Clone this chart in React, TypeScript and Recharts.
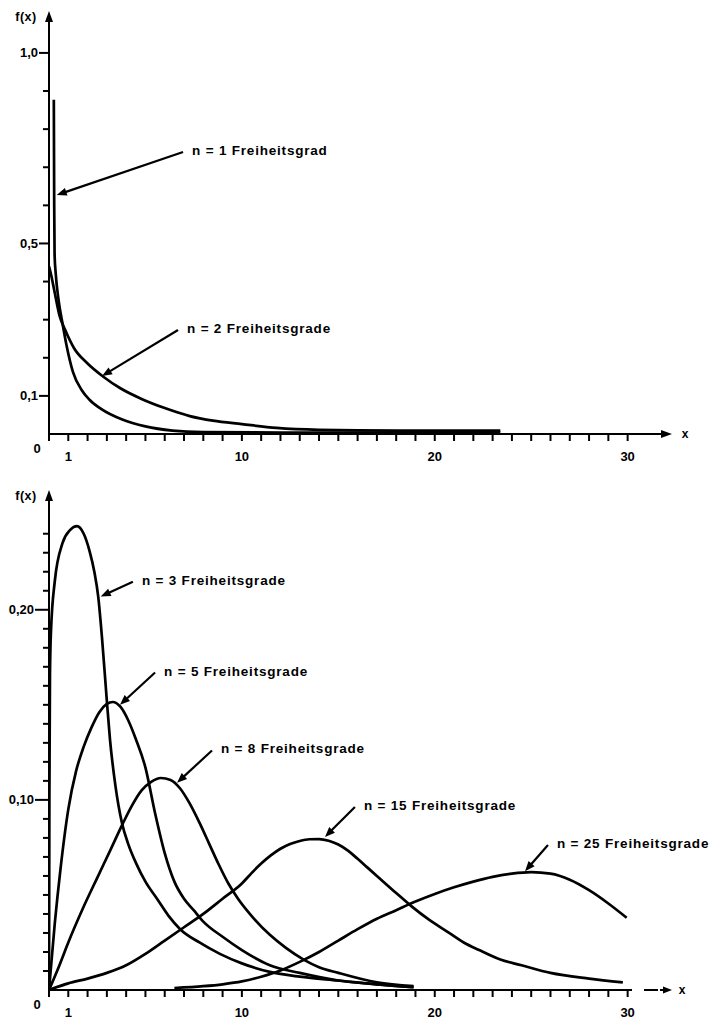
import React from 'react';
import { LineChart, Line, XAxis, YAxis, ReferenceLine } from 'recharts';

type Pt = [number, number];

// ---------- data ----------
const chi1: Pt[] = [
  [0.25, 0.877], [0.27, 0.6], [0.29, 0.47], [0.35, 0.42], [0.5, 0.35], [0.7, 0.29],
  [0.9, 0.235], [1.24, 0.163], [1.7, 0.115], [2.1, 0.09], [2.7, 0.066], [3.8, 0.038],
  [5.0, 0.02], [6.4, 0.009], [8.0, 0.005], [12, 0.004], [18, 0.004], [23.4, 0.004],
];
const chi2: Pt[] = [
  [0, 0.44], [0.1, 0.42], [0.3, 0.37], [0.55, 0.31], [0.83, 0.274], [1.3, 0.225],
  [2.0, 0.185], [2.8, 0.151], [3.7, 0.12], [4.8, 0.092], [6.0, 0.068], [7.3, 0.047],
  [8.5, 0.035], [10, 0.026], [11.8, 0.016], [14, 0.011], [18, 0.009], [23.4, 0.009],
];
const chi3: Pt[] = [
  [0, 0], [0.02, 0.1], [0.05, 0.165], [0.1, 0.188], [0.3, 0.215], [0.7, 0.235],
  [1.1, 0.242], [1.45, 0.244], [1.8, 0.24], [2.1, 0.231], [2.35, 0.22], [2.55, 0.207],
  [2.75, 0.185], [3.0, 0.152], [3.16, 0.132], [3.45, 0.107], [3.78, 0.088], [4.1, 0.077],
  [4.5, 0.067], [5.0, 0.057], [5.6, 0.048], [6.2, 0.039], [6.8, 0.032], [7.8, 0.025],
  [8.86, 0.019], [10, 0.014], [11.45, 0.0095], [13, 0.007], [15, 0.005], [17, 0.003],
  [18.9, 0.0015],
];
const chi5: Pt[] = [
  [0, 0], [0.3, 0.035], [0.6, 0.064], [1.0, 0.095], [1.4, 0.115], [1.8, 0.128],
  [2.2, 0.138], [2.6, 0.146], [3.0, 0.1505], [3.3, 0.1515], [3.7, 0.149], [4.1, 0.142],
  [4.5, 0.132], [5.0, 0.117], [5.5, 0.093], [6.0, 0.072], [6.5, 0.057], [7.0, 0.048],
  [7.5, 0.042], [8.0, 0.036], [9.0, 0.028], [10, 0.021], [11.45, 0.013], [13, 0.009],
  [15, 0.005], [17, 0.003], [18.9, 0.0015],
];
const chi8: Pt[] = [
  [0, 0], [0.5, 0.012], [1.0, 0.025], [1.76, 0.043], [2.5, 0.059], [3.2, 0.074],
  [3.8, 0.087], [4.3, 0.097], [4.8, 0.105], [5.3, 0.1095], [5.8, 0.1115], [6.3, 0.1105],
  [6.8, 0.106], [7.3, 0.098], [7.8, 0.088], [8.3, 0.077], [8.8, 0.066], [9.3, 0.056],
  [9.8, 0.048], [10.5, 0.039], [11.45, 0.029], [12.3, 0.022], [13.2, 0.016], [14, 0.012],
  [15, 0.009], [17, 0.004], [18.9, 0.002],
];
const chi15: Pt[] = [
  [0, 0], [1, 0.0035], [2, 0.006], [3, 0.009], [4, 0.013], [5, 0.019], [6, 0.026],
  [7, 0.033], [8, 0.04], [9, 0.048], [10, 0.056], [10.5, 0.0615], [11, 0.0665], [11.5, 0.0708],
  [12, 0.0743], [12.5, 0.0768], [13, 0.0784], [13.5, 0.0793], [14, 0.0794], [14.5, 0.0785],
  [15, 0.0765], [15.5, 0.0733], [16, 0.069], [16.5, 0.0645], [17, 0.06], [18, 0.051],
  [18.8, 0.044], [19.7, 0.037], [20.6, 0.031], [21.5, 0.025], [22.3, 0.021], [23.4, 0.016],
  [24.5, 0.013], [26, 0.009], [28, 0.006], [29.75, 0.004],
];
const chi25: Pt[] = [
  [6.5, 0.001], [8, 0.002], [9, 0.003], [10, 0.0045], [11, 0.007], [12, 0.0103],
  [13, 0.0148], [14, 0.02], [15, 0.026], [16, 0.032], [17, 0.0375], [18, 0.042],
  [19, 0.0465], [20, 0.0505], [21, 0.054], [22, 0.057], [23, 0.0595], [24, 0.0612],
  [25, 0.062], [26, 0.0612], [27, 0.058], [28, 0.0525], [29, 0.0455], [29.95, 0.038],
];

const xTicks = [0, 1, 2, 3, 4, 5, 6, 7, 8, 9, 10, 11, 12, 13, 14, 15, 16, 17, 18, 19, 20,
  21, 22, 23, 24, 25, 26, 27, 28, 29, 30];
const xTickLabels: Record<string, string> = { '1': '1', '10': '10', '20': '20', '30': '30' };

const topYTicks = [0.1, 0.2, 0.3, 0.4, 0.5, 0.6, 0.7, 0.8, 0.9, 1.0];
const topYLabels: Record<string, string> = { '0.1': '0,1', '0.5': '0,5', '1': '1,0' };

const bottomYTicks = [0.01, 0.02, 0.03, 0.04, 0.05, 0.06, 0.07, 0.08, 0.09, 0.1, 0.11, 0.12,
  0.13, 0.14, 0.15, 0.16, 0.17, 0.18, 0.19, 0.2, 0.21, 0.22, 0.23, 0.24];
const bottomYLabels: Record<string, string> = { '0.1': '0,10', '0.2': '0,20' };

type Note = { text: string; from: Pt; to: Pt };
const topNotes: Note[] = [
  { text: 'n = 1 Freiheitsgrad', from: [6.95, 0.74], to: [0.4, 0.627] },
  { text: 'n = 2 Freiheitsgrade', from: [6.69, 0.273], to: [2.75, 0.152] },
];
const bottomNotes: Note[] = [
  { text: 'n = 3 Freiheitsgrade', from: [4.35, 0.2147], to: [2.68, 0.207] },
  { text: 'n = 5 Freiheitsgrade', from: [5.5, 0.167], to: [3.68, 0.15] },
  { text: 'n = 8 Freiheitsgrade', from: [8.45, 0.126], to: [6.64, 0.109] },
  { text: 'n = 15 Freiheitsgrade', from: [15.86, 0.0963], to: [14.31, 0.0805] },
  { text: 'n = 25 Freiheitsgrade', from: [25.87, 0.0763], to: [24.68, 0.0625] },
];

// ---------- rendering ----------
const FONT = '"Liberation Sans", Arial, Helvetica, sans-serif';
const X_MAX = 32.3;

const toRows = (pts: Pt[]) => pts.map(([x, y]) => ({ x, y }));

const XTick = (props: any) => {
  const { x, y, payload } = props;
  const v = payload.value;
  const label = xTickLabels[String(v)];
  return (
    <g>
      <line x1={x} y1={y} x2={x} y2={y + 7} stroke="#000" strokeWidth={2} />
      {label && (
        <text x={x} y={y + 27} textAnchor="middle" fontFamily={FONT} fontWeight="bold" fontSize={13} fill="#000">
          {label}
        </text>
      )}
      {v === 0 && (
        <text x={x - 12} y={y + 19} textAnchor="middle" fontFamily={FONT} fontWeight="bold" fontSize={13} fill="#000">
          0
        </text>
      )}
    </g>
  );
};

const makeYTick = (labels: Record<string, string>, majorLen: number) => (props: any) => {
  const { x, y, payload } = props;
  const label = labels[String(payload.value)];
  const len = label ? majorLen : 6;
  return (
    <g>
      <line x1={x - len} y1={y} x2={x} y2={y} stroke="#000" strokeWidth={2} />
      {label && (
        <text x={x - len - 1} y={y + 4.5} textAnchor="end" fontFamily={FONT} fontWeight="bold" fontSize={13} fill="#000">
          {label}
        </text>
      )}
    </g>
  );
};

const arrowHead = (tx: number, ty: number, ux: number, uy: number, L: number, W: number) => {
  const bx = tx - ux * L;
  const by = ty - uy * L;
  return `${tx},${ty} ${bx - uy * W},${by + ux * W} ${bx + uy * W},${by - ux * W}`;
};

const makeNoteShape = (text: string) => (p: any) => {
  const { x1, y1, x2, y2 } = p;
  const dx = x2 - x1;
  const dy = y2 - y1;
  const len = Math.hypot(dx, dy) || 1;
  const ux = dx / len;
  const uy = dy / len;
  const L = 10;
  return (
    <g>
      <line x1={x1} y1={y1} x2={x2 - ux * (L - 1)} y2={y2 - uy * (L - 1)} stroke="#000" strokeWidth={2.2} />
      <polygon points={arrowHead(x2, y2, ux, uy, L, 4)} fill="#000" />
      <text x={x1 + 9} y={y1 + 3} fontFamily={FONT} fontWeight="bold" fontSize={13.5} letterSpacing={0.8} fill="#000">
        {text}
      </text>
    </g>
  );
};

const YAxisShape = (p: any) => {
  const { x1, y1, x2, y2 } = p;
  return (
    <g>
      <line x1={x1} y1={y1 + 1} x2={x2} y2={y2 + 8} stroke="#000" strokeWidth={2} />
      <polygon points={arrowHead(x2, y2, 0, -1, 11, 4)} fill="#000" />
      <text x={x2 - 23} y={y2 + 10} textAnchor="middle" fontFamily={FONT} fontWeight="bold" fontSize={12.5} letterSpacing={0.5} fill="#000">
        f(x)
      </text>
    </g>
  );
};

const XAxisShapeTop = (p: any) => {
  const { x1, y1, x2 } = p;
  return (
    <g>
      <line x1={x1 - 1} y1={y1} x2={x2 - 8} y2={y1} stroke="#000" strokeWidth={2} />
      <polygon points={arrowHead(x2, y1, 1, 0, 11, 4)} fill="#000" />
      <text x={x2 + 13} y={y1 + 4} textAnchor="middle" fontFamily={FONT} fontWeight="bold" fontSize={12} fill="#000">
        x
      </text>
    </g>
  );
};

const XAxisShapeBottom = (p: any) => {
  const { x1, y1, x2 } = p;
  return (
    <g>
      <line x1={x1 - 1} y1={y1} x2={x2 - 40} y2={y1} stroke="#000" strokeWidth={2} />
      <line x1={x2 - 28} y1={y1} x2={x2 - 14} y2={y1} stroke="#000" strokeWidth={2} />
      <line x1={x2 - 12} y1={y1} x2={x2 - 6} y2={y1} stroke="#000" strokeWidth={2} />
      <polygon points={arrowHead(x2, y1, 1, 0, 9, 3.5)} fill="#000" />
      <text x={x2 + 10} y={y1 + 4} textAnchor="middle" fontFamily={FONT} fontWeight="bold" fontSize={12} fill="#000">
        x
      </text>
    </g>
  );
};

type PanelProps = {
  top: number;
  height: number;
  marginTop: number;
  xAxisHeight: number;
  yMax: number;
  yTicks: number[];
  yLabels: Record<string, string>;
  majorLen: number;
  series: Pt[][];
  notes: Note[];
  bottomAxis: boolean;
};

function Panel(props: PanelProps) {
  const { top, height, marginTop, xAxisHeight, yMax, yTicks, yLabels, majorLen, series, notes, bottomAxis } = props;
  return (
    <div style={{ position: 'absolute', left: 0, top }}>
      <LineChart width={717} height={height} margin={{ top: marginTop, right: 45, bottom: 0, left: 0 }}>
        <XAxis
          type="number"
          dataKey="x"
          domain={[0, X_MAX]}
          ticks={xTicks}
          interval={0}
          tick={XTick}
          tickSize={0}
          tickMargin={0}
          tickLine={false}
          axisLine={false}
          height={xAxisHeight}
          allowDataOverflow
        />
        <YAxis
          type="number"
          domain={[0, yMax]}
          ticks={yTicks}
          interval={0}
          tick={makeYTick(yLabels, majorLen)}
          tickSize={0}
          tickMargin={0}
          tickLine={false}
          axisLine={false}
          width={49}
          allowDataOverflow
        />
        {series.map((s, i) => (
          <Line
            key={i}
            data={toRows(s)}
            dataKey="y"
            type="monotone"
            stroke="#000"
            strokeWidth={2.7}
            dot={false}
            activeDot={false}
            isAnimationActive={false}
          />
        ))}
        <ReferenceLine segment={[{ x: 0, y: 0 }, { x: 0, y: yMax }]} shape={YAxisShape} ifOverflow="visible" />
        <ReferenceLine
          segment={[{ x: 0, y: 0 }, { x: X_MAX, y: 0 }]}
          shape={bottomAxis ? XAxisShapeBottom : XAxisShapeTop}
          ifOverflow="visible"
        />
        {notes.map((n, i) => (
          <ReferenceLine
            key={'n' + i}
            segment={[{ x: n.from[0], y: n.from[1] }, { x: n.to[0], y: n.to[1] }]}
            shape={makeNoteShape(n.text)}
            ifOverflow="visible"
          />
        ))}
      </LineChart>
    </div>
  );
}

export default function App() {
  return (
    <div style={{ position: 'absolute', left: 0, top: 0, width: 717, height: 1019, background: '#fff' }}>
      <Panel
        top={0}
        height={470}
        marginTop={11}
        xAxisHeight={36}
        yMax={1.11}
        yTicks={topYTicks}
        yLabels={topYLabels}
        majorLen={10}
        series={[chi1, chi2]}
        notes={topNotes}
        bottomAxis={false}
      />
      <Panel
        top={470}
        height={549}
        marginTop={20}
        xAxisHeight={29}
        yMax={0.263}
        yTicks={bottomYTicks}
        yLabels={bottomYLabels}
        majorLen={14}
        series={[chi3, chi5, chi8, chi15, chi25]}
        notes={bottomNotes}
        bottomAxis
      />
    </div>
  );
}
